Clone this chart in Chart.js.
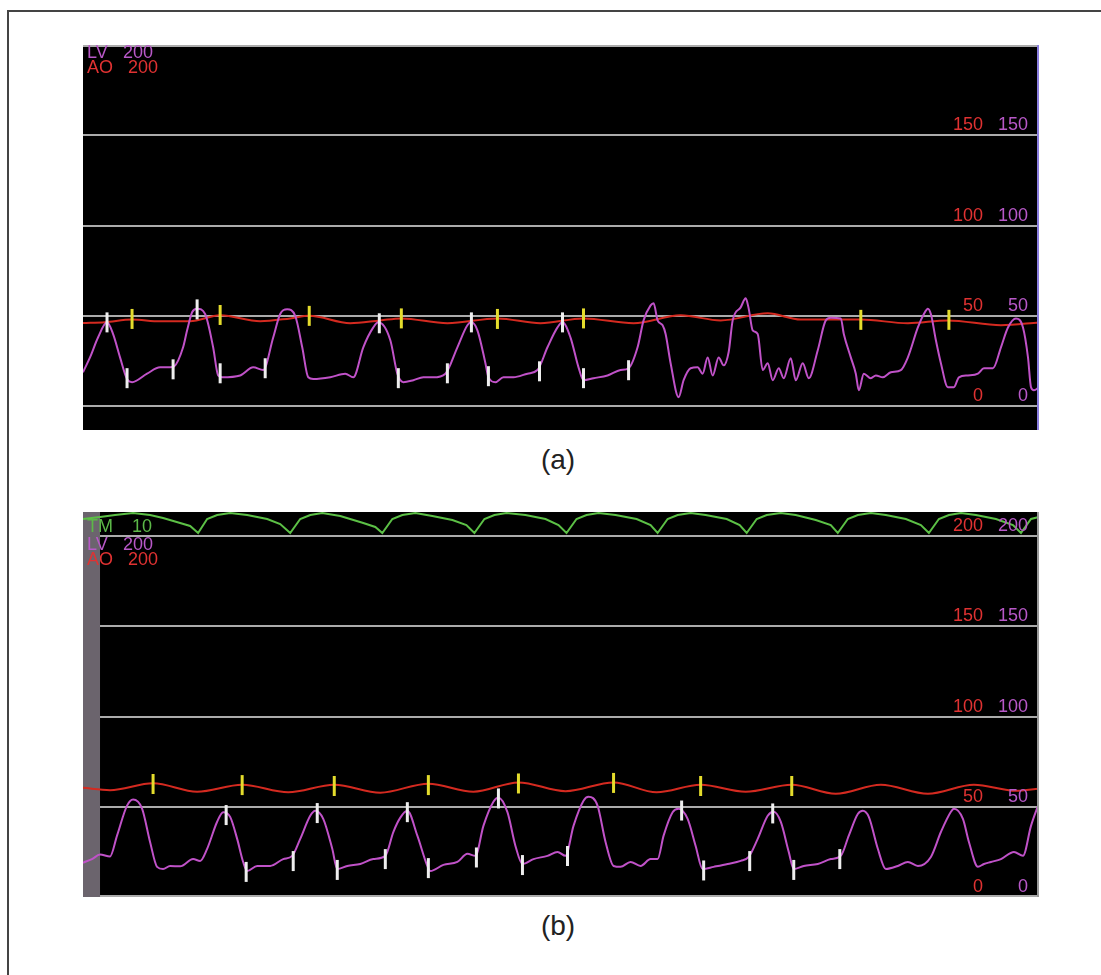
<!DOCTYPE html>
<html>
<head>
<meta charset="utf-8">
<script src="https://cdn.jsdelivr.net/npm/chart.js@4.4.0/dist/chart.umd.min.js"></script>
<style>
  html, body { margin:0; padding:0; background:#fff; width:1101px; height:975px; overflow:hidden; }
  .frame { position:absolute; left:7px; top:10px; width:1200px; height:1200px; border-top:2px solid #444; border-left:2px solid #444; }
  .panel { position:absolute; left:83px; width:956px; height:385px; }
  #pa { top:45px; }
  #pb { top:512px; }
  .cap { position:absolute; width:200px; left:458px; text-align:center; font-family:"Liberation Sans", Arial, sans-serif; font-size:28px; color:#222; }
</style>
</head>
<body>
<div class="frame"></div>
<div class="panel" id="pa"><canvas id="ca"></canvas></div>
<div class="cap" style="top:444px;">(a)</div>
<div class="panel" id="pb"><canvas id="cb"></canvas></div>
<div class="cap" style="top:910px;">(b)</div>
<script>
// ---------- Panel (a) data : time sample t, pressure (mmHg) ----------
const aLvT = [0,7,15,24,30,37,44,49,64,77,87,91,100,104,109,114,122,130,135,139,157,170,180,190,197,204,212,219,225,230,247,262,270,280,290,295,307,314,320,330,340,350,362,374,384,388,394,402,405,412,420,430,444,454,464,474,479,487,495,500,510,524,537,545,554,560,567,570,574,579,582,587,595,600,607,614,619,624,629,635,640,645,649,657,662,665,669,674,679,684,689,695,700,707,712,719,725,734,742,747,757,760,767,772,775,780,787,792,799,807,817,824,834,840,844,847,852,857,864,870,875,884,894,900,909,917,924,932,939,944,947,950,955];
const aLvP = [18.8,27,38,46.4,40,27,15,13.3,18,21.5,21.5,22,32.6,42,52,54,51,32.6,17,16,17,21.5,20,38,51,53.6,50,32.6,16,15,16,18,16,32.6,43.6,46.4,36.5,18,13.3,14.4,16,16,18,32.6,44.8,46.4,42,23.8,16,13.3,16,16,18,20,32.6,43.6,46.4,38,21.5,14.4,15.5,17,20,21,32.6,47.5,55.8,57,47.5,44.8,40,23.8,5,14.4,21,21.5,18,27,17,27,22.6,30,47.5,54.7,59.7,54,42,40,20,23.8,14.4,21,15.5,26.5,14.4,23.8,15.5,31,47.5,49,48.6,40,27,18,8.8,18,15.5,17,16,18.8,20,27,43.6,51,54,51,36.5,23.8,10.5,10.5,16,17,18,21,21,32.6,43.6,48.6,43.6,27,10.5,8.8,10.5];
const aAoT = [0,22,49,77,107,137,177,207,226,267,297,318,364,414,457,500,550,597,637,684,717,777,824,864,917,955];
const aAoP = [46,46.5,48,47,47,50.3,47,48.6,50,45.9,47.5,48.6,45.9,48.6,45.9,48.6,45.9,50.3,47.5,51.4,48,48,45.9,47.5,44.8,46.4];
const aWhiteT = [24,44,90,114,137,182,296,315,364,388,405,456,479,500,545];
const aWhiteP = [46.4,15.5,20.4,53.6,18.2,21,45.9,15.5,18.2,46.4,16.6,19.3,46.4,15.5,19.9];
const aYellowT = [49,137,226,318,414,500,777,865];
const aYellowP = [48.3,50.5,50,48.6,48.3,48.6,47.8,47.8];
const aGrid = [0,50,100,150,200];
const aTickLabels = [0,50,100,150];

// ---------- Panel (b) data ----------
const bLvT = [0,9,17,27,34,44,50,59,67,74,80,87,97,110,117,124,134,140,147,154,160,164,174,187,200,209,217,227,232,240,249,254,264,277,290,302,310,317,324,334,344,347,360,374,384,392,400,410,415,424,432,439,450,464,474,482,490,500,505,514,522,530,537,547,557,567,574,580,589,595,604,612,619,630,644,657,665,674,684,690,697,705,710,720,734,747,757,765,774,779,785,794,802,814,824,834,847,857,867,870,879,885,894,900,907,917,930,939,947,955];
const bLvP = [19,21,23.5,22.5,34,50.6,54,49,30.5,16.7,15.5,17.2,17,21,20,26.7,41.7,47,44.4,32.2,19.4,14.4,17.2,17.2,21,22.8,32.2,45,47.8,43.3,26.7,15.5,17.2,18.3,21,22.8,36,44,47.8,34,17.2,14.4,17.8,19.4,23.9,22.8,39.4,52.8,55,47,28.3,18.3,21,22.8,25,22.8,39.4,53.3,55.5,50.6,30.5,17.2,16.7,19.4,17.2,21,21,34,47,48.9,43.3,28.3,15.5,16.7,18.3,20,22.2,32.2,45,47.2,41.7,25,15.5,17.2,18.3,21,22.8,34,46,47.8,44.4,26.7,15.5,17.2,19.4,17.2,22.2,36,47.2,48.9,43.3,30.5,16.7,18.3,19.4,21,25,22.8,39.4,52];
const bAoT = [0,27,70,114,159,205,251,297,345,390,435,482,530,573,617,662,708,752,797,844,890,932,955];
const bAoP = [60.5,59.2,63,58.3,62.2,58,62.2,57.8,62.8,58.3,63.5,58.6,63.5,58,62.2,58.3,62.2,57.2,62.2,57.2,62.2,58.8,60];
const bTmT = [0,17,32,50,67,80,97,107,115,124,134,147,164,184,197,207,217,227,239,257,280,292,299,309,319,332,349,369,383,391,401,411,423,442,462,475,483,493,503,515,532,553,567,574,584,594,607,622,643,656,663,673,683,697,712,732,747,754,764,774,787,802,822,837,845,855,865,877,892,912,929,937,947,955];
const bTmV = [7,8,9,10,9,7.5,5,3.5,0,7,9,10,9,7,4.5,0,7,9,10,8.5,5,3,0,7,9,10,8.5,6.5,4,0,7,9,10,9,7,4,0,7,9,10,9,7,4,0,7,9,10,9,7,4,0,7,9,10,9,6.5,4,0,7,9,10,9,7,4,0,7,9,10,9,7,4,0,7,8];
const bWhiteT = [143,163,210,234,254,302,324,345,393,415,439,484,598,620,666,689,710,756];
const bWhiteP = [45.4,13.9,19.9,46.5,15,21,47,16,21.9,54.6,17.7,22.7,47.9,14.7,19.9,46.3,15,21];
const bYellowT = [70,159,251,345,435,530,617,708];
const bYellowP = [62.6,62,61.5,62,62.9,63.2,61.5,61.5];
const bGrid = [0,50,100,150,200];
const bTickLabels = [0,50,100,150,200];
const bMaskEnd = 17;

// ---------- styling ----------
const FONT = '"Liberation Sans", Arial, sans-serif';
const C_LV = '#c052c8', C_AO = '#d42a20', C_TM = '#5cc046';
const C_LV_TXT = '#b858c8', C_AO_TXT = '#e03232', C_TM_TXT = '#5cb848';
const C_WHITE = '#eeeeee', C_YELLOW = '#e4dc2c', C_GRID = '#ababab';

const zip = (t, v) => t.map((x, i) => ({ x: x, y: v[i] }));

function markerSet(t, v, color) {
  return { data: zip(t, v), showLine: false, pointStyle: 'line', pointRotation: 90,
    pointRadius: 10, pointHoverRadius: 10, pointBorderWidth: 3, pointBorderColor: color,
    borderColor: color, backgroundColor: color };
}
function traceSet(t, v, color, extra) {
  return Object.assign({ data: zip(t, v), borderColor: color, borderWidth: 2, pointRadius: 0,
    cubicInterpolationMode: 'monotone', fill: false }, extra || {});
}

function panelPlugin(opt) {
  return {
    id: 'panel_' + opt.name,
    beforeDraw(chart) {
      const c = chart.ctx;
      c.save(); c.fillStyle = '#000'; c.fillRect(0, 0, chart.width, chart.height); c.restore();
    },
    beforeDatasetsDraw(chart) {
      const c = chart.ctx, ys = chart.scales.y, xs = chart.scales.x, a = chart.chartArea;
      c.save();
      c.strokeStyle = C_GRID; c.lineWidth = 2;
      opt.grid.forEach(v => {
        let py = Math.round(ys.getPixelForValue(v));
        py = Math.min(Math.max(py, a.top + 1), a.bottom - 1);
        c.beginPath(); c.moveTo(a.left, py); c.lineTo(a.right, py); c.stroke();
      });
      if (opt.mask) {
        const x1 = xs.getPixelForValue(opt.mask);
        c.fillStyle = '#6b646d';
        c.fillRect(a.left, a.top, x1 - a.left, a.bottom - a.top);
      }
      c.restore();
    },
    afterDatasetsDraw(chart) {
      const c = chart.ctx, ys = chart.scales.y, a = chart.chartArea;
      c.save();
      c.font = '18px ' + FONT;
      c.textBaseline = 'alphabetic';
      c.textAlign = 'right';
      opt.labels.forEach(v => {
        const py = Math.min(ys.getPixelForValue(v), a.bottom) - 5;
        c.fillStyle = C_AO_TXT; c.fillText(String(v), a.right - 56, py);
        c.fillStyle = C_LV_TXT; c.fillText(String(v), a.right - 11, py);
      });
      c.textAlign = 'left';
      opt.channels.forEach(ch => {
        c.fillStyle = ch.color;
        c.fillText(ch.name, a.left + 4, ch.base);
        c.fillText(ch.scale, a.left + ch.sx, ch.base);
      });
      if (opt.rightEdge) {
        c.strokeStyle = opt.rightEdge; c.lineWidth = 2;
        c.beginPath(); c.moveTo(a.right - 1, a.top); c.lineTo(a.right - 1, a.bottom); c.stroke();
      }
      c.restore();
    }
  };
}

function makeOptions(yMin, yMax, extraScales) {
  return {
    animation: false, responsive: true, maintainAspectRatio: false,
    layout: { padding: 0, autoPadding: false },
    plugins: { legend: { display: false }, tooltip: { enabled: false } },
    events: [],
    scales: Object.assign({
      x: { type: 'linear', min: 0, max: 955, display: false },
      y: { type: 'linear', min: yMin, max: yMax, display: false }
    }, extraScales || {})
  };
}

new Chart(document.getElementById('ca'), {
  type: 'line',
  data: { datasets: [
    markerSet(aWhiteT, aWhiteP, C_WHITE),
    markerSet(aYellowT, aYellowP, C_YELLOW),
    traceSet(aLvT, aLvP, C_LV),
    traceSet(aAoT, aAoP, C_AO)
  ]},
  options: makeOptions(-13.2, 200),
  plugins: [panelPlugin({ name: 'a', grid: aGrid, labels: aTickLabels, rightEdge: '#8a7ee0',
    channels: [ { name: 'LV', scale: '200', color: C_LV_TXT, base: 13, sx: 40 },
                { name: 'AO', scale: '200', color: C_AO_TXT, base: 28, sx: 45 } ] })]
});

new Chart(document.getElementById('cb'), {
  type: 'line',
  data: { datasets: [
    markerSet(bWhiteT, bWhiteP, C_WHITE),
    markerSet(bYellowT, bYellowP, C_YELLOW),
    traceSet(bTmT, bTmV, C_TM, { yAxisID: 'tm', cubicInterpolationMode: 'default', tension: 0 }),
    traceSet(bLvT, bLvP, C_LV),
    traceSet(bAoT, bAoP, C_AO)
  ]},
  options: makeOptions(0, 213.3, { tm: { type: 'linear', min: -182, max: 10.5, display: false } }),
  plugins: [panelPlugin({ name: 'b', grid: bGrid, labels: bTickLabels, mask: bMaskEnd, rightEdge: '#9a9a9a',
    channels: [ { name: 'TM', scale: '10', color: C_TM_TXT, base: 20, sx: 49 },
                { name: 'LV', scale: '200', color: C_LV_TXT, base: 38, sx: 40 },
                { name: 'AO', scale: '200', color: C_AO_TXT, base: 53, sx: 45 } ] })]
});
</script>
</body>
</html>
